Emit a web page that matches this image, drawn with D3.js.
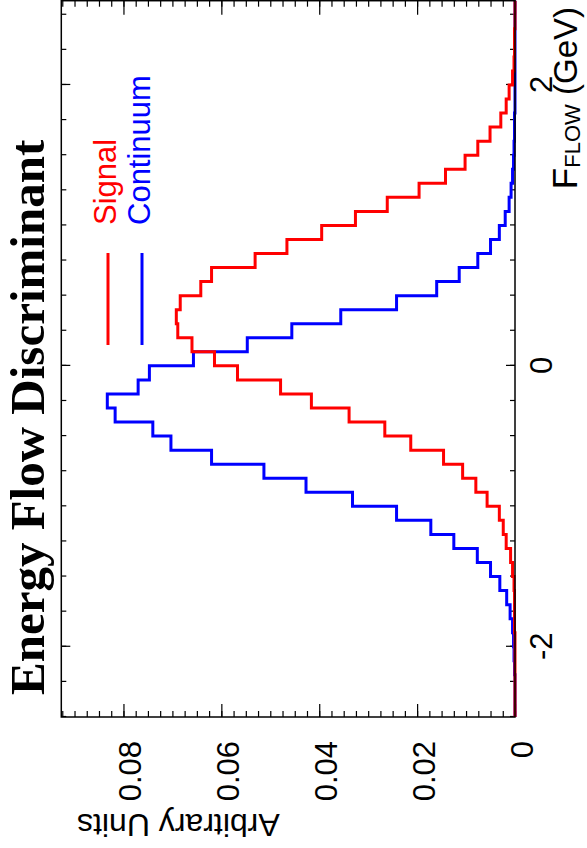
<!DOCTYPE html>
<html>
<head>
<meta charset="utf-8">
<script src="https://cdnjs.cloudflare.com/ajax/libs/d3/7.8.5/d3.min.js"></script>
<style>
  body { margin: 0; background: #fff; }
</style>
</head>
<body>
<script>
const pageW = 587, pageH = 848;

// histogram bins (lower edges, width 0.1 GeV)
const binLow = [-2.5, -2.4, -2.3, -2.2, -2.1, -2.0, -1.9, -1.8, -1.7, -1.6,
                -1.5, -1.4, -1.3, -1.2, -1.1, -1.0, -0.9, -0.8, -0.7, -0.6,
                -0.5, -0.4, -0.3, -0.2, -0.1, 0.0, 0.1, 0.2, 0.3, 0.4,
                0.5, 0.6, 0.7, 0.8, 0.9, 1.0, 1.1, 1.2, 1.3, 1.4,
                1.5, 1.6, 1.7, 1.8, 1.9, 2.0, 2.1, 2.2, 2.3, 2.4, 2.5];
const binWidth = 0.1;

const signal = [0, 0, 0, 0, 0, 0, 0.0001, 0.0001, 0.0001, 0.0002,
                0.0005, 0.0009, 0.0018, 0.0024, 0.0032, 0.0057, 0.0080, 0.0107, 0.0146, 0.0213,
                0.0266, 0.0339, 0.0416, 0.0479, 0.0567, 0.0614, 0.0660, 0.0689, 0.0692, 0.0684,
                0.0642, 0.0620, 0.0531, 0.0466, 0.0395, 0.0326, 0.0261, 0.0196, 0.0142, 0.0102,
                0.0076, 0.0051, 0.0029, 0.0018, 0.0012, 0.0005, 0.0002, 0.0001, 0.0001, 0, 0];

const continuum = [0, 0, 0, 0.0001, 0.0002, 0.0003, 0.0005, 0.0010, 0.0017, 0.0031,
                   0.0050, 0.0077, 0.0125, 0.0172, 0.0242, 0.0332, 0.0427, 0.0513, 0.0620, 0.0703,
                   0.0740, 0.0817, 0.0833, 0.0770, 0.0747, 0.0657, 0.0547, 0.0456, 0.0356, 0.0242,
                   0.0160, 0.0114, 0.0076, 0.0050, 0.0032, 0.0020, 0.0012, 0.0008, 0.0005, 0.0003,
                   0.0002, 0.0001, 0.0001, 0, 0, 0, 0, 0, 0, 0, 0];

const xMajorTicks = [-2, 0, 2];
const yMajorTicks = [0, 0.02, 0.04, 0.06, 0.08];
const seriesNames = ["Signal", "Continuum"];
const seriesColors = ["#ff0000", "#0000ff"];

const sans = "'Liberation Sans', Arial, Helvetica, sans-serif";
const serif = "'Liberation Serif', 'Times New Roman', serif";

const svg = d3.select("body").append("svg")
  .attr("width", pageW)
  .attr("height", pageH)
  .style("font-family", sans);
svg.append("rect").attr("width", pageW).attr("height", pageH).attr("fill", "#fff");

// the plot is laid out upright (pageH wide, pageW tall) and then turned a quarter left
const g = svg.append("g").attr("transform", `translate(0,${pageH}) rotate(-90)`);

const plotL = 131, plotR = 847.3, plotT = 61.3, plotB = 515;

const x = d3.scaleLinear().domain([-2.5, 2.6]).range([plotL, plotR]);
const y = d3.scaleLinear().domain([0, 0.0927]).range([plotB, plotT]);

const xMinor = d3.range(-2.5, 2.51, 0.25);
const yMinor = d3.range(0, 0.0926, 0.0025);

function clean(sel) {
  sel.select(".domain").remove();
  sel.selectAll(".tick line").attr("stroke", "#000").attr("stroke-width", 1.2);
}

// bottom axis (F_FLOW)
g.append("g").attr("transform", `translate(0,${plotB})`)
  .call(d3.axisBottom(x).tickValues(xMinor).tickSize(-5).tickFormat(""))
  .call(clean);
g.append("g").attr("transform", `translate(0,${plotB})`)
  .call(d3.axisBottom(x).tickValues(xMajorTicks).tickSize(-9).tickPadding(15)
    .tickFormat(d => String(d)))
  .call(clean)
  .selectAll("text")
  .attr("font-size", 31).attr("fill", "#000")
  .style("font-family", sans);

// top mirror ticks
g.append("g").attr("transform", `translate(0,${plotT})`)
  .call(d3.axisTop(x).tickValues(xMinor).tickSize(-5).tickFormat(""))
  .call(clean);
g.append("g").attr("transform", `translate(0,${plotT})`)
  .call(d3.axisTop(x).tickValues(xMajorTicks).tickSize(-9).tickFormat(""))
  .call(clean);

// left axis (Arbitrary Units)
g.append("g").attr("transform", `translate(${plotL},0)`)
  .call(d3.axisLeft(y).tickValues(yMinor).tickSize(-6).tickFormat(""))
  .call(clean);
g.append("g").attr("transform", `translate(${plotL},0)`)
  .call(d3.axisLeft(y).tickValues(yMajorTicks).tickSize(-13).tickPadding(24)
    .tickFormat(d => d === 0 ? "0" : d3.format(".2f")(d)))
  .call(clean)
  .selectAll("text")
  .attr("font-size", 31).attr("fill", "#000").attr("dy", "0.55em")
  .style("font-family", sans);

// right mirror ticks
g.append("g").attr("transform", `translate(${plotR},0)`)
  .call(d3.axisRight(y).tickValues(yMinor).tickSize(-6).tickFormat(""))
  .call(clean);
g.append("g").attr("transform", `translate(${plotR},0)`)
  .call(d3.axisRight(y).tickValues(yMajorTicks).tickSize(-14).tickFormat(""))
  .call(clean);

// histograms
const line = d3.line()
  .x(d => x(d[0]))
  .y(d => y(d[1]))
  .curve(d3.curveStepAfter);

function histPoints(vals) {
  const pts = binLow.map((lo, i) => [lo, vals[i]]);
  pts.push([binLow[binLow.length - 1] + binWidth, vals[vals.length - 1]]);
  return pts;
}

[continuum, signal].forEach((vals, k) => {
  g.append("path")
    .attr("d", line(histPoints(vals)))
    .attr("fill", "none")
    .attr("stroke", k === 0 ? seriesColors[1] : seriesColors[0])
    .attr("stroke-width", 3);
});

// frame
g.append("rect")
  .attr("x", plotL).attr("y", plotT)
  .attr("width", plotR - plotL).attr("height", plotB - plotT)
  .attr("fill", "none").attr("stroke", "#000").attr("stroke-width", 1.5);

// legend
const legendRows = [108, 142];
seriesNames.forEach((name, i) => {
  g.append("line")
    .attr("x1", 503).attr("x2", 595)
    .attr("y1", legendRows[i]).attr("y2", legendRows[i])
    .attr("stroke", seriesColors[i]).attr("stroke-width", 3);
  g.append("text")
    .attr("x", 623).attr("y", legendRows[i] + 8)
    .attr("font-size", 31).attr("fill", seriesColors[i])
    .text(name);
});

// title
g.append("text")
  .attr("x", 153).attr("y", 44)
  .style("font-family", serif)
  .attr("font-weight", "bold")
  .attr("font-size", 49)
  .text("Energy Flow Discriminant");

// axis titles
const xTitle = g.append("text")
  .attr("x", 841).attr("y", 577)
  .attr("text-anchor", "end")
  .attr("font-size", 33);
xTitle.append("tspan").attr("font-size", 35).text("F");
xTitle.append("tspan").attr("font-size", 22).attr("dy", 3).text("FLOW");
xTitle.append("tspan").attr("dy", -3).text(" (GeV)");

g.append("text")
  .attr("transform", `translate(34,77) rotate(-90)`)
  .attr("text-anchor", "end")
  .attr("font-size", 32)
  .text("Arbitrary Units");
</script>
</body>
</html>
